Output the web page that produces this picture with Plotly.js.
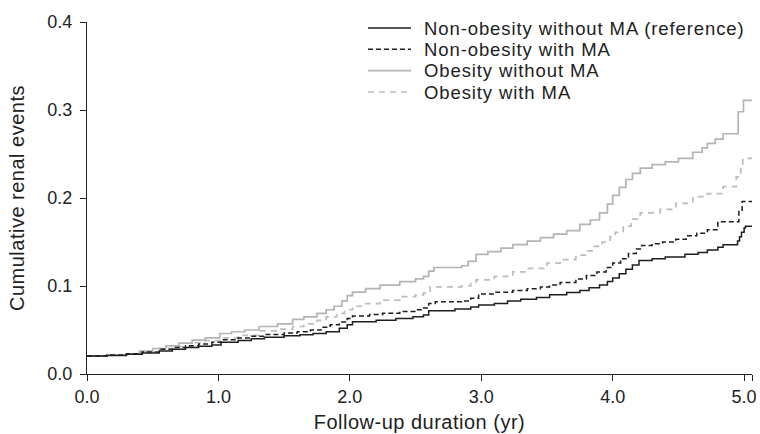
<!DOCTYPE html>
<html>
<head>
<meta charset="utf-8">
<script src="https://cdn.plot.ly/plotly-3.0.1.min.js"></script>
<style>html,body{margin:0;padding:0;background:#fff;}#chart{width:760px;height:434px;}</style>
</head>
<body>
<div id="chart"></div>
<script>
// Series names
var seriesNames = ["Non-obesity without MA (reference)", "Non-obesity with MA", "Obesity without MA", "Obesity with MA"];

// Non-obesity without MA (reference)
var tRef = [0.00,0.15,0.30,0.42,0.55,0.65,0.75,0.85,0.95,1.02,1.15,1.25,1.35,1.50,1.62,1.72,1.82,1.92,1.98,2.02,2.20,2.35,2.48,2.56,2.60,2.80,2.92,2.98,3.10,3.20,3.30,3.42,3.52,3.65,3.75,3.82,3.90,3.96,4.00,4.05,4.10,4.15,4.20,4.30,4.40,4.55,4.65,4.72,4.80,4.84,4.95,4.965,4.98,5.00,5.01,5.06];
var vRef = [0.0205,0.021,0.0225,0.024,0.0262,0.028,0.030,0.0315,0.033,0.036,0.038,0.040,0.0418,0.0435,0.0445,0.046,0.048,0.052,0.056,0.0595,0.0612,0.063,0.065,0.067,0.072,0.074,0.076,0.0785,0.080,0.083,0.085,0.087,0.090,0.0925,0.095,0.098,0.101,0.105,0.109,0.114,0.119,0.124,0.129,0.131,0.133,0.136,0.138,0.141,0.144,0.147,0.151,0.156,0.161,0.166,0.168,0.168];

// Non-obesity with MA
var tNoMA = [0.00,0.15,0.30,0.42,0.55,0.65,0.75,0.85,0.95,1.02,1.15,1.25,1.35,1.50,1.60,1.70,1.78,1.85,1.92,1.98,2.02,2.15,2.25,2.38,2.50,2.56,2.60,2.65,2.85,2.92,2.98,3.10,3.24,3.35,3.45,3.52,3.60,3.72,3.80,3.88,3.95,4.00,4.06,4.12,4.18,4.22,4.30,4.38,4.48,4.56,4.64,4.72,4.80,4.96,4.985,5.06];
var vNoMA = [0.0205,0.0215,0.023,0.025,0.028,0.030,0.032,0.034,0.036,0.039,0.041,0.043,0.045,0.0465,0.048,0.050,0.053,0.056,0.059,0.063,0.066,0.0675,0.069,0.071,0.073,0.075,0.080,0.082,0.083,0.086,0.091,0.093,0.095,0.097,0.099,0.101,0.104,0.108,0.112,0.116,0.121,0.126,0.131,0.137,0.142,0.146,0.148,0.150,0.153,0.157,0.160,0.164,0.173,0.186,0.196,0.196];

// Obesity without MA
var tOb = [0.00,0.15,0.30,0.40,0.50,0.60,0.70,0.80,0.90,1.01,1.10,1.20,1.31,1.45,1.565,1.65,1.75,1.82,1.88,1.94,1.98,2.02,2.12,2.23,2.38,2.50,2.56,2.60,2.64,2.85,2.90,2.96,3.05,3.15,3.24,3.35,3.45,3.55,3.65,3.75,3.83,3.90,3.96,4.00,4.05,4.10,4.15,4.21,4.30,4.40,4.50,4.61,4.68,4.72,4.78,4.84,4.955,4.995,5.06];
var vOb = [0.0205,0.0215,0.023,0.026,0.029,0.032,0.035,0.0385,0.041,0.046,0.048,0.050,0.054,0.057,0.062,0.065,0.069,0.073,0.077,0.083,0.089,0.093,0.097,0.101,0.105,0.108,0.111,0.117,0.121,0.123,0.128,0.136,0.139,0.143,0.147,0.151,0.155,0.159,0.163,0.170,0.175,0.183,0.193,0.203,0.212,0.221,0.228,0.234,0.238,0.241,0.245,0.252,0.257,0.262,0.267,0.273,0.298,0.311,0.311];

// Obesity with MA
var tObMA = [0.00,0.15,0.30,0.40,0.55,0.65,0.80,0.90,1.01,1.15,1.31,1.45,1.565,1.65,1.75,1.82,1.90,1.96,2.02,2.12,2.23,2.38,2.50,2.56,2.61,2.85,2.92,2.96,3.10,3.24,3.35,3.50,3.60,3.72,3.80,3.85,3.92,3.98,4.02,4.08,4.14,4.21,4.36,4.48,4.61,4.72,4.84,4.94,4.975,4.99,5.06];
var vObMA = [0.0205,0.0215,0.023,0.025,0.029,0.031,0.0355,0.038,0.041,0.044,0.049,0.051,0.054,0.057,0.061,0.065,0.069,0.073,0.077,0.080,0.084,0.088,0.090,0.092,0.099,0.100,0.104,0.107,0.111,0.116,0.120,0.126,0.130,0.135,0.140,0.145,0.150,0.156,0.161,0.168,0.176,0.183,0.187,0.194,0.2015,0.205,0.213,0.224,0.2356,0.245,0.245];

// Axis ticks
var xTickVals = [0, 1, 2, 3, 4, 5, 5.06];
var xTickText = ["0.0", "1.0", "2.0", "3.0", "4.0", "5.0", ""];
var yTickVals = [0, 0.1, 0.2, 0.3, 0.4];
var yTickText = ["0.0", "0.1", "0.2", "0.3", "0.4"];

var FONT = "Liberation Sans, Arial, Helvetica, sans-serif";
var styles = [
  {color: "#1e1e1e", width: 1.5, dash: "solid"},
  {color: "#1e1e1e", width: 1.5, dash: "5px,3px"},
  {color: "#b4b4b4", width: 1.7, dash: "solid"},
  {color: "#bdbdbd", width: 1.7, dash: "6px,5px"}
];
var xs = [tRef, tNoMA, tOb, tObMA];
var ys = [vRef, vNoMA, vOb, vObMA];

function spaced(s, ls) { return '<span style="letter-spacing:' + ls + 'px">' + s + '</span>'; }

var traces = [];
for (var i = 0; i < 4; i++) {
  traces.push({
    x: xs[i], y: ys[i], type: "scatter", mode: "lines",
    line: {shape: "hv", color: styles[i].color, width: styles[i].width, dash: styles[i].dash},
    name: seriesNames[i], showlegend: false, hoverinfo: "skip"
  });
}
// draw order: gray behind black
traces = [traces[3], traces[2], traces[1], traces[0]];

// manual legend
var W = 665, H = 352, L = 87, T = 22;
function px2x(p) { return (p - L) / W; }
function py2y(p) { return (T + H - p) / H; }
var rowsY = [28, 49.3, 70.6, 92];
var shapes = [], annotations = [];
for (var k = 0; k < 4; k++) {
  shapes.push({type: "line", xref: "paper", yref: "paper",
    x0: px2x(368), x1: px2x(411), y0: py2y(rowsY[k]), y1: py2y(rowsY[k]),
    line: {color: styles[k].color, width: styles[k].width, dash: styles[k].dash}});
  annotations.push({xref: "paper", yref: "paper", x: px2x(423), y: py2y(rowsY[k]),
    xanchor: "left", yanchor: "middle", showarrow: false, borderpad: 0,
    text: spaced(seriesNames[k], 0.9),
    font: {family: FONT, size: 18.5, color: "#222"}});
}

var layout = {
  width: 760, height: 434,
  margin: {l: L, r: 760 - L - W, t: T, b: 434 - T - H},
  paper_bgcolor: "#fff", plot_bgcolor: "#fff",
  showlegend: false,
  font: {family: FONT, color: "#222"},
  xaxis: {
    range: [0, 5.06], showgrid: false, zeroline: false,
    showline: true, linecolor: "#222", linewidth: 1,
    ticks: "outside", ticklen: 6, tickcolor: "#222", tickwidth: 1,
    tickvals: xTickVals, ticktext: xTickText,
    tickfont: {family: FONT, size: 18, color: "#222"},
    ticklabelstandoff: 0,
    title: {text: spaced("Follow-up duration (yr)", 0.5), font: {family: FONT, size: 20, color: "#222"}, standoff: 9}
  },
  yaxis: {
    range: [0, 0.4], showgrid: false, zeroline: false,
    showline: true, linecolor: "#222", linewidth: 1,
    ticks: "outside", ticklen: 6, tickcolor: "#222", tickwidth: 1,
    tickvals: yTickVals, ticktext: yTickText,
    tickfont: {family: FONT, size: 18, color: "#222"},
    ticklabelstandoff: 4,
    title: {text: spaced("Cumulative renal events", 0.5), font: {family: FONT, size: 20, color: "#222"}, standoff: 17}
  },
  shapes: shapes,
  annotations: annotations
};

Plotly.newPlot("chart", traces, layout, {staticPlot: true, displayModeBar: false});
</script>
</body>
</html>
